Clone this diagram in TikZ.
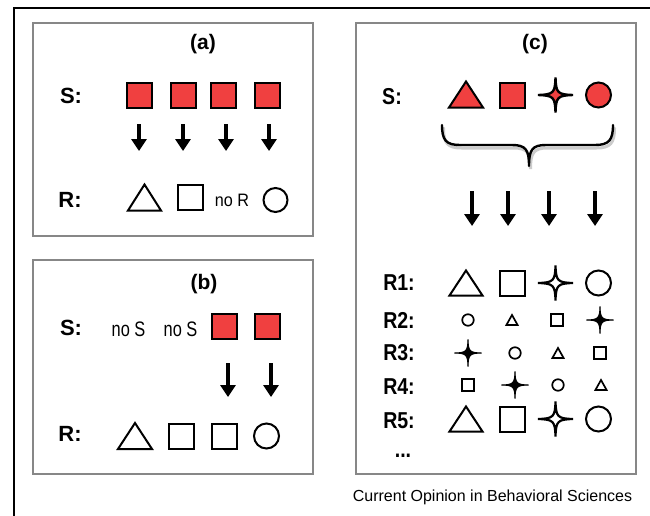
\documentclass[tikz,border=0pt]{standalone}
\usepackage{fontspec}
\usepackage{graphicx}
\setmainfont{Liberation Sans}
\usetikzlibrary{arrows.meta}
\definecolor{sred}{RGB}{240,64,64}
\definecolor{boxgray}{RGB}{135,135,135}
\tikzset{
  panel/.style={draw=boxgray, line width=1.8pt, inner sep=0},
  lbl/.style={font=\fontsize{22}{22}\bfseries\selectfont, inner sep=0},
  clbl/.style={font=\fontsize{23}{23}\bfseries\selectfont, inner sep=0, xscale=0.85},
  ttl/.style={font=\fontsize{21}{21}\bfseries\selectfont, inner sep=0},
  nolbl/.style={inner sep=0},
  sq/.style={draw, line width=2pt, minimum size=25, inner sep=0},
  smsq/.style={draw, line width=1.7pt, minimum size=11.5, inner sep=0},
  circ/.style={circle, draw, line width=2pt, minimum size=24, inner sep=0},
  smcirc/.style={circle, draw, line width=1.7pt, minimum size=11.5, inner sep=0},
  arr/.style={line width=3.2pt, -{Triangle[width=15pt,length=12pt]}},
  tri/.pic={\path[pic actions] (-1,1) -- (1,1) -- (0,-1) -- cycle;},
  fstar/.pic={\path[pic actions] (1,0) .. controls (0.12,0.025) and (0.025,0.12) .. (0,1)
      .. controls (-0.025,0.12) and (-0.12,0.025) .. (-1,0)
      .. controls (-0.12,-0.025) and (-0.025,-0.12) .. (0,-1)
      .. controls (0.025,-0.12) and (0.12,-0.025) .. (1,0) -- cycle;}
}
\begin{document}
\begin{tikzpicture}[x=1pt,y=-1pt]
\useasboundingbox (0,0) rectangle (650,515);
\fill[white] (0,0) rectangle (650,515);
% outer frame
\draw[line width=1.4pt] (14,516) -- (14,8) -- (651,8);

% ---------- panels
\node[panel, minimum width=280, minimum height=213] (pa) at (173,129.5) {};
\node[panel, minimum width=280, minimum height=214] (pb) at (173,367) {};
\node[panel, minimum width=280, minimum height=451] (pc) at (496,248.5) {};

% ---------- (a)
\node[ttl] (ta) at (203,44) {(a)};
\node[lbl] (aSl) at (71,96) {S:};
\node[lbl] (aRl) at (70,200) {R:};
\foreach \x [count=\i] in {139.5,183,223.5,267}{
  \node[sq, fill=sred] (aS\i) at (\x,95.5) {};
}
\foreach \x [count=\i] in {139,183,226,269}{
  \coordinate (aA\i) at (\x,124);
  \coordinate (aB\i) at (\x,151);
  \draw[arr] (aA\i) -- (aB\i);
}
\pic[draw, line width=2pt, xscale=16.5, yscale=13] at (144.5,197.5) {tri};
\node[sq] (aR2) at (190.5,197) {};
\node[nolbl] (aR3) at (232,200) {\fontsize{18}{18}\selectfont\scalebox{0.9}[1]{no R}};
\node[circ] (aR4) at (275.5,200) {};

% ---------- (b)
\node[ttl] (tb) at (204,284) {(b)};
\node[lbl] (bSl) at (71,328) {S:};
\node[lbl] (bRl) at (70,434) {R:};
\node[nolbl] (bS1) at (128.5,329) {\fontsize{21}{21}\selectfont\scalebox{0.78}[1]{no S}};
\node[nolbl] (bS2) at (180.5,329) {\fontsize{21}{21}\selectfont\scalebox{0.78}[1]{no S}};
\node[sq, fill=sred] (bS3) at (224,326) {};
\node[sq, fill=sred] (bS4) at (267,326) {};
\foreach \x [count=\i] in {228,271}{
  \coordinate (bA\i) at (\x,363);
  \coordinate (bB\i) at (\x,397);
  \draw[arr] (bA\i) -- (bB\i);
}
\pic[draw, line width=2pt, xscale=17, yscale=13] at (135,436) {tri};
\node[sq] (bR2) at (181.5,436) {};
\node[sq] (bR3) at (224,436) {};
\node[circ, minimum size=25] (bR4) at (266.5,436) {};

% ---------- (c)
\node[ttl] (tc) at (535,44) {(c)};
\node[clbl] (cSl) at (392,97) {S:};
\pic[draw, fill=sred, line width=2pt, xscale=17, yscale=13] at (466,94.5) {tri};
\node[sq, fill=sred] (cS2) at (512.5,95.5) {};
\pic[draw, fill=sred, line width=2.4pt, scale=17.5] at (555.5,95) {fstar};
\node[circ, fill=sred, minimum size=25] (cS4) at (598.5,95) {};

% brace
\draw[black!20, line width=3pt, line cap=round] (443.5,128) .. controls (443.5,143) and (447.5,148) .. (461.5,148) -- (513.5,148) .. controls (527.5,148) and (530.5,153) .. (530.5,169)
  .. controls (530.5,153) and (533.5,148) .. (547.5,148) -- (596.5,148) .. controls (610.5,148) and (614.5,143) .. (614.5,128);
\draw[line width=2.4pt, line cap=round, line join=round] (442,125) .. controls (442,140) and (446,145) .. (460,145) -- (512,145) .. controls (526,145) and (529,150) .. (529,166)
  .. controls (529,150) and (532,145) .. (546,145) -- (595,145) .. controls (609,145) and (613,140) .. (613,125);

\foreach \x [count=\i] in {472,508,549,595}{
  \coordinate (cA\i) at (\x,191);
  \coordinate (cB\i) at (\x,226);
  \draw[arr] (cA\i) -- (cB\i);
}

% R labels
\node[clbl] (r1) at (399,283) {R1:};
\node[clbl] (r2) at (399,320) {R2:};
\node[clbl] (r3) at (399,353) {R3:};
\node[clbl] (r4) at (399,387) {R4:};
\node[clbl] (r5) at (399,421) {R5:};
\node[clbl] (rdots) at (403,456) {...};

% R1 and R5
\foreach \y/\n in {283/1,419/5}{
  \pic[draw, fill=white, line width=2pt, xscale=16.5, yscale=12.5] at (466,\y) {tri};
  \node[sq] (c\n q) at (512.5,\y) {};
  \pic[draw, fill=white, line width=2.2pt, scale=17.5] at (555.5,\y) {fstar};
  \node[circ, minimum size=25] (c\n c) at (598.5,\y) {};
}
% R2
\node[smcirc] (c2c) at (468,320) {};
\pic[draw, line width=1.7pt, xscale=5.6, yscale=5] at (512,320) {tri};
\node[smsq] (c2q) at (557,320) {};
\pic[draw, fill=black, line width=1pt, scale=13.5] at (600,320) {fstar};
% R3
\pic[draw, fill=black, line width=1pt, scale=13.5] at (468,353) {fstar};
\node[smcirc] (c3c) at (515,353) {};
\pic[draw, line width=1.7pt, xscale=5.6, yscale=5] at (558,353) {tri};
\node[smsq] (c3q) at (600,353) {};
% R4
\node[smsq] (c4q) at (468,385) {};
\pic[draw, fill=black, line width=1pt, scale=13.5] at (515,385) {fstar};
\node[smcirc] (c4c) at (558,385) {};
\pic[draw, line width=1.7pt, xscale=5.6, yscale=5] at (601,385) {tri};

% caption
\node[inner sep=0, font=\fontsize{16}{16}\selectfont] (cap) at (492.5,497) {Current Opinion in Behavioral Sciences};
\end{tikzpicture}
\end{document}
